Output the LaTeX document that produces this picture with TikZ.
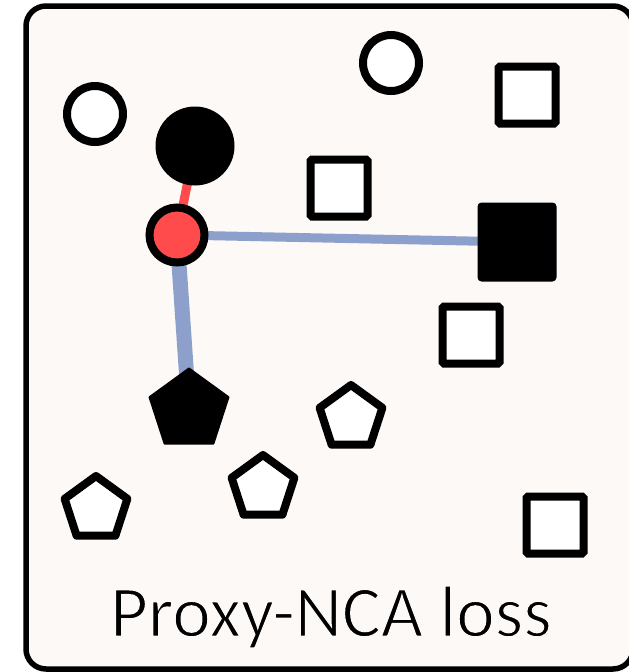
\documentclass[tikz,border=0pt]{standalone}
\usepackage{fontspec}
\setmainfont{Carlito}
\usetikzlibrary{shapes.geometric}
\pgfdeclarelayer{panel}
\pgfdeclarelayer{links}
\pgfsetlayers{panel,links,main}
\definecolor{panelbg}{HTML}{FDF9F6}
\definecolor{anchorred}{HTML}{FF4B4B}
\definecolor{proxyblue}{HTML}{8DA0CB}
% thin the glyphs by stroking them in the panel colour
\newcommand{\thintext}[1]{\special{pdf:code q 2 Tr 1.6 w 0.992 0.976 0.965 RG}#1\special{pdf:code Q}}
\tikzset{
  opencirc/.style={circle,draw=black,fill=white,line width=8pt,inner sep=0pt,minimum size=56pt},
  proxycirc/.style={circle,fill=black,inner sep=0pt,minimum size=79pt},
  anchorcirc/.style={circle,draw=black,fill=anchorred,line width=8pt,inner sep=0pt,minimum size=55pt},
  opensq/.style={rectangle,draw=black,fill=white,line width=8pt,inner sep=0pt,minimum size=57pt,rounded corners=1.5pt},
  proxysq/.style={rectangle,fill=black,inner sep=0pt,minimum size=79pt,rounded corners=4pt},
  openpent/.style={regular polygon,regular polygon sides=5,draw=black,fill=white,line width=8pt,line join=round,inner sep=0pt,minimum size=66pt},
  proxypent/.style={regular polygon,regular polygon sides=5,draw=black,fill=black,line width=2pt,line join=round,inner sep=0pt,minimum size=83pt},
  poslink/.style={draw=anchorred,line width=9pt},
  neglink/.style={draw=proxyblue,line width=9pt},
  mainlink/.style={draw=proxyblue,line width=15pt},
}
\begin{document}
\begin{tikzpicture}[x=1pt,y=-1pt]
\useasboundingbox (0,0) rectangle (629,672);
\begin{pgfonlayer}{panel}
  \draw[line width=5.5pt,fill=panelbg,rounded corners=20pt] (26,6) rectangle (633,669);
\end{pgfonlayer}

% circle class
\node[opencirc] (c1) at (95,114) {};
\node[opencirc] (c2) at (391,63) {};
\node[proxycirc] (pc) at (195,146) {};
\node[anchorcirc] (a) at (177,235) {};

% square class
\node[opensq] (s1) at (527,95) {};
\node[opensq] (s2) at (339,188) {};
\node[proxysq] (ps) at (517,242) {};
\node[opensq] (s3) at (471,335) {};
\node[opensq] (s4) at (555,525) {};

% pentagon class
\node[proxypent] (pp) at (189,410) {};
\node[openpent] (p1) at (351,418) {};
\node[openpent] (p2) at (263,488) {};
\node[openpent] (p3) at (96,509) {};

% distances from the anchor to the proxies
\begin{pgfonlayer}{links}
  \draw[poslink] (a.center) -- (pc.center);
  \draw[neglink] (a.center) -- (ps.center);
  \draw[mainlink] (a.center) -- (pp.center);
\end{pgfonlayer}

\node[anchor=base,font=\fontsize{73}{78}\selectfont,inner sep=0pt] (title) at (331,636.5) {\thintext{Proxy-NCA loss}};
\end{tikzpicture}
\end{document}
